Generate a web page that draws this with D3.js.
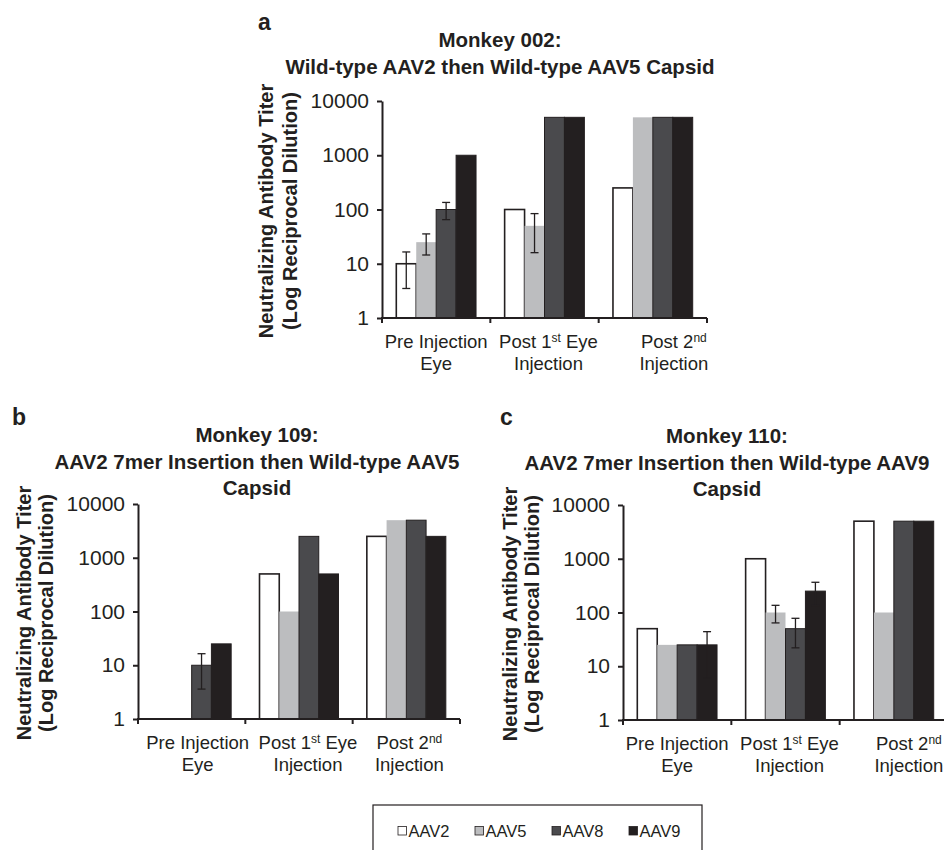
<!DOCTYPE html>
<html>
<head>
<meta charset="utf-8">
<script src="https://cdn.jsdelivr.net/npm/d3@7"></script>
<style>
	body { margin: 0; background: white; }
	svg { display: block; font-family: "Liberation Sans", Arial, sans-serif; }
</style>
</head>
<body>
<div id="chart"></div>
<script>

// Data.
const categories = ["pre", "post1", "post2"];
const serotypes = ["AAV2", "AAV5", "AAV8", "AAV9"];
const colors = ["#ffffff", "#bcbdbf", "#4a4a4d", "#231f20"];
const yTicks = [1, 10, 100, 1000, 10000];

// Category labels, one entry per line; sup marks the superscript part.
const catLabels = [
	[[{t: "Pre Injection"}], [{t: "Eye"}]],
	[[{t: "Post 1"}, {t: "st", sup: true}, {t: " Eye"}], [{t: "Injection"}]],
	[[{t: "Post 2"}, {t: "nd", sup: true}], [{t: "Injection"}]]
];

// Titers per category, series in the order of serotypes. null = no bar.
const m002Values = [[10, 25, 100, 1000], [100, 50, 5000, 5000], [250, 5000, 5000, 5000]];
const m002Errors = [[6.5, 10.5, 35, null], [null, 34, null, null], [null, null, null, null]];

const m109Values = [[null, null, 10, 25], [500, 100, 2500, 500], [2500, 5000, 5000, 2500]];
const m109Errors = [[null, null, 6.4, null], [null, null, null, null], [null, null, null, null]];

const m110Values = [[50, 25, 25, 25], [1000, 100, 50, 250], [5000, 100, 5000, 5000]];
const m110Errors = [[null, null, null, 19], [null, 36, 28, 115], [null, null, null, null]];

const titles = {
	a: ["Monkey 002:", "Wild-type AAV2 then Wild-type AAV5 Capsid"],
	b: ["Monkey 109:", "AAV2 7mer Insertion then Wild-type AAV5", "Capsid"],
	c: ["Monkey 110:", "AAV2 7mer Insertion then Wild-type AAV9", "Capsid"]
};
const yTitle = ["Neutralizing Antibody Titer", "(Log Reciprocal Dilution)"];


// Layout of the three panels (pixels).
const panels = [
	{letter: "a", values: m002Values, errors: m002Errors,
	 x0: 382, x1: 707, yTop: 101, yBottom: 318,
	 letterX: 258, letterY: 30, titleX: 500, titleY: 47,
	 yTitleX: [266, 290], yTitleY: 211, labelShift: [0, 4, 21]},
	{letter: "b", values: m109Values, errors: m109Errors,
	 x0: 138, x1: 460, yTop: 504, yBottom: 719,
	 letterX: 12, letterY: 425, titleX: 257, titleY: 442,
	 yTitleX: [24, 46], yTitleY: 613, labelShift: [6, 9, 3]},
	{letter: "c", values: m110Values, errors: m110Errors,
	 x0: 623, x1: 948, yTop: 505, yBottom: 720,
	 letterX: 500, letterY: 425, titleX: 727, titleY: 443,
	 yTitleX: [510, 532], yTitleY: 614, labelShift: [0, 4, 15]}
];

const ink = "#231f20";

const svg = d3.select("#chart").append("svg")
	.attr("width", 944)
	.attr("height", 850);

panels.forEach(p=>{
	let g = svg.append("g").attr("class", "panel-" + p.letter);
	
	let x = d3.scaleBand().domain(categories).range([p.x0, p.x1]);
	let bw = x.bandwidth();
	let xs = d3.scaleBand().domain(serotypes).range([bw*0.132, bw*0.868]);
	let y = d3.scaleLog().domain([1, 10000]).range([p.yBottom, p.yTop]);
	
	// Flatten data for the bars.
	let bars = [];
	categories.forEach((c, i)=>{
		serotypes.forEach((s, j)=>{
			let v = p.values[i][j];
			if(v != null){
				bars.push({cat: c, ser: s, j: j, v: v, err: p.errors[i][j]});
			} // if
		})
	})
	
	g.append("g").selectAll("rect")
	  .data(bars)
	  .enter()
	  .append("rect")
		.attr("x", d=>x(d.cat) + xs(d.ser))
		.attr("width", xs.bandwidth())
		.attr("y", d=>y(d.v))
		.attr("height", d=>p.yBottom - y(d.v))
		.attr("fill", d=>colors[d.j])
		.attr("stroke", d=>d.j == 1 ? "none" : ink)
		.attr("stroke-width", d=>d.j == 0 ? 1.6 : 1);
	
	// Error bars.
	let eb = g.append("g").selectAll("g")
	  .data(bars.filter(d=>d.err != null))
	  .enter()
	  .append("g")
		.attr("stroke", ink)
		.attr("stroke-width", 1.3);
	let cx = d=>x(d.cat) + xs(d.ser) + xs.bandwidth()/2;
	eb.append("line")
		.attr("x1", cx).attr("x2", cx)
		.attr("y1", d=>y(d.v + d.err))
		.attr("y2", d=>y(Math.max(d.v - d.err, 1)));
	eb.append("line")
		.attr("x1", d=>cx(d) - 4).attr("x2", d=>cx(d) + 4)
		.attr("y1", d=>y(d.v + d.err)).attr("y2", d=>y(d.v + d.err));
	eb.append("line")
		.attr("x1", d=>cx(d) - 4).attr("x2", d=>cx(d) + 4)
		.attr("y1", d=>y(d.v - d.err)).attr("y2", d=>y(d.v - d.err));
	
	// Y axis.
	let yAxis = g.append("g")
		.attr("transform", `translate(${p.x0},0)`)
		.call(d3.axisLeft(y).tickValues(yTicks).tickFormat(d3.format("d")).tickSize(5).tickSizeOuter(0));
	yAxis.select(".domain").attr("stroke", ink).attr("stroke-width", 2);
	yAxis.selectAll(".tick line").attr("stroke", ink).attr("stroke-width", 2);
	yAxis.selectAll(".tick text")
		.attr("x", -13)
		.attr("font-size", 21)
		.attr("fill", ink)
		.attr("font-family", "Liberation Sans, Arial, sans-serif");
	
	// X axis: baseline with ticks on the category boundaries.
	g.append("line")
		.attr("x1", p.x0 - 1).attr("x2", p.x1)
		.attr("y1", p.yBottom).attr("y2", p.yBottom)
		.attr("stroke", ink).attr("stroke-width", 2);
	let bounds = categories.map(c=>x(c)).concat([p.x1]);
	g.append("g").selectAll("line")
	  .data(bounds)
	  .enter()
	  .append("line")
		.attr("x1", d=>d).attr("x2", d=>d)
		.attr("y1", p.yBottom).attr("y2", p.yBottom + 5)
		.attr("stroke", ink).attr("stroke-width", 2);
	
	// Category labels.
	categories.forEach((c, i)=>{
		catLabels[i].forEach((line, k)=>{
			let t = g.append("text")
				.attr("x", x(c) + bw/2 + p.labelShift[i])
				.attr("y", p.yBottom + 30 + k*22)
				.attr("text-anchor", "middle")
				.attr("font-size", 18.5)
				.attr("fill", ink);
			line.forEach(part=>{
				let s = t.append("tspan").text(part.t);
				if(part.sup){
					s.attr("font-size", 12).attr("baseline-shift", "6.5");
				} // if
			})
		})
	})
	
	// Panel letter.
	g.append("text")
		.attr("x", p.letterX).attr("y", p.letterY)
		.attr("font-size", 23).attr("font-weight", "bold")
		.attr("fill", ink)
		.text(p.letter);
	
	// Title.
	titles[p.letter].forEach((line, k)=>{
		g.append("text")
			.attr("x", p.titleX).attr("y", p.titleY + k*26.5)
			.attr("text-anchor", "middle")
			.attr("font-size", 20.5).attr("font-weight", "bold")
			.attr("fill", ink)
			.text(line);
	})
	
	// Y axis title, two rotated lines.
	yTitle.forEach((line, k)=>{
		g.append("text")
			.attr("transform", `translate(${p.yTitleX[k]},${p.yTitleY}) rotate(-90)`)
			.attr("text-anchor", "middle")
			.attr("dominant-baseline", "central")
			.attr("font-size", 20).attr("font-weight", "bold")
			.attr("fill", ink)
			.text(line);
	})
});


// Legend.
let legend = svg.append("g").attr("class", "legend");
legend.append("rect")
	.attr("x", 373).attr("y", 805)
	.attr("width", 329).attr("height", 70)
	.attr("fill", "white")
	.attr("stroke", ink).attr("stroke-width", 1.2);

let items = legend.selectAll("g.item")
  .data(serotypes)
  .enter()
  .append("g")
	.attr("class", "item")
	.attr("transform", (d, i)=>`translate(${398 + i*77},0)`);
items.append("rect")
	.attr("x", 0).attr("y", 826.5)
	.attr("width", 8.5).attr("height", 8.5)
	.attr("fill", (d, i)=>colors[i])
	.attr("stroke", ink).attr("stroke-width", 0.8);
items.append("text")
	.attr("x", 10.5).attr("y", 836.5)
	.attr("font-size", 16.5)
	.attr("fill", ink)
	.text(d=>d);

</script>
</body>
</html>
